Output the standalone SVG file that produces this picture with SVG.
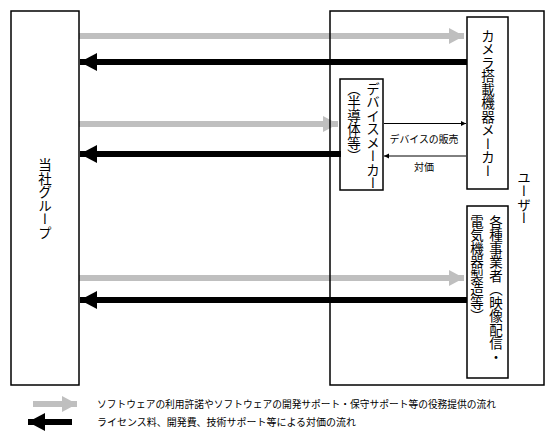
<svg xmlns="http://www.w3.org/2000/svg" width="556" height="443" viewBox="0 0 556 443">
<style>
.box{fill:none;stroke:#000;stroke-width:1.5}
.vt{font-family:"Noto Sans CJK JP","Noto Sans CJK SC",sans-serif;font-size:13.5px;writing-mode:vertical-rl;fill:#000}
.lbl{font-family:"Noto Sans CJK JP","Noto Sans CJK SC",sans-serif;font-size:10px;fill:#000}
.gray{stroke:#bfbfbf;stroke-width:6;fill:none}
.black{stroke:#000;stroke-width:6;fill:none}
.thin{stroke:#000;stroke-width:1;fill:none}
</style>
<defs>
<marker id="gh" markerUnits="userSpaceOnUse" markerWidth="16" markerHeight="18" refX="15" refY="8" orient="auto" viewBox="0 0 16 16">
<path d="M0,0 L15,8 L0,16 Z" fill="#bfbfbf"/>
</marker>
<marker id="bh" markerUnits="userSpaceOnUse" markerWidth="18" markerHeight="20" refX="17" refY="9" orient="auto" viewBox="0 0 18 18">
<path d="M0,0 L17,9 L0,18 Z" fill="#000"/>
</marker>
<marker id="th" markerUnits="userSpaceOnUse" markerWidth="6" markerHeight="6" refX="5" refY="3" orient="auto" viewBox="0 0 6 6">
<path d="M0,0.5 L5,3 L0,5.5 Z" fill="#000"/>
</marker>
</defs>
<rect width="556" height="443" fill="#fff"/>
<g id="connectors">
<line class="gray" x1="79" y1="36" x2="464" y2="36" marker-end="url(#gh)"/>
<line class="black" x1="467" y1="62" x2="80" y2="62" marker-end="url(#bh)"/>
<line class="gray" x1="79" y1="124" x2="338" y2="124" marker-end="url(#gh)"/>
<line class="black" x1="341" y1="154" x2="80" y2="154" marker-end="url(#bh)"/>
<line class="gray" x1="79" y1="278" x2="464" y2="278" marker-end="url(#gh)"/>
<line class="black" x1="467" y1="300" x2="80" y2="300" marker-end="url(#bh)"/>
<line class="thin" x1="384" y1="123.5" x2="466" y2="123.5" marker-end="url(#th)"/>
<line class="thin" x1="466" y1="156" x2="384" y2="156" marker-end="url(#th)"/>
<text class="lbl" x="424" y="143" text-anchor="middle" textLength="69" lengthAdjust="spacingAndGlyphs">デバイスの販売</text>
<text class="lbl" x="424" y="171" text-anchor="middle" font-size="11">対価</text>
</g>
<g id="group">
<rect class="box" x="11" y="11" width="68" height="374" fill="#fff"/>
<text class="vt" x="45" y="199" text-anchor="middle">当社グループ</text>
</g>
<g id="user">
<rect class="box" x="330" y="11" width="214" height="374"/>
<text class="vt" x="524" y="198" text-anchor="middle">ユーザー</text>
</g>
<g id="camera">
<rect class="box" x="467" y="17" width="41" height="172" fill="#fff"/>
<text class="vt" x="488" y="103" text-anchor="middle">カメラ搭載機器メーカー</text>
</g>
<g id="device">
<rect class="box" x="340" y="79" width="43" height="111" fill="#fff"/>
<text class="vt" x="373" y="82" font-size="13">デバイスメーカー</text>
<text class="vt" x="354" y="82" font-size="13">（半導体等）</text>
</g>
<g id="various">
<rect class="box" x="467" y="206" width="41" height="172" fill="#fff"/>
<text class="vt" x="496" y="215">各種事業者（映像配信・</text>
<text class="vt" x="477" y="215">電気機器製造等）</text>
</g>
<g id="legend">
<line class="gray" x1="33" y1="404" x2="77" y2="404" marker-end="url(#gh)"/>
<line class="black" x1="72" y1="422" x2="28" y2="422" marker-end="url(#bh)"/>
<text class="lbl" x="97" y="408" textLength="399" lengthAdjust="spacingAndGlyphs">ソフトウェアの利用許諾やソフトウェアの開発サポート・保守サポート等の役務提供の流れ</text>
<text class="lbl" x="97" y="426" textLength="259" lengthAdjust="spacingAndGlyphs">ライセンス料、開発費、技術サポート等による対価の流れ</text>
</g>
</svg>
